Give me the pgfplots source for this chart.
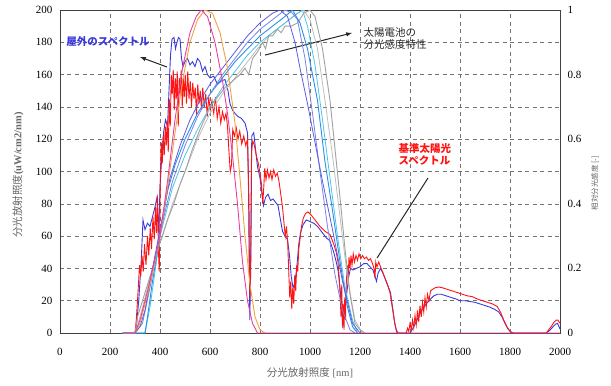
\documentclass[border=0pt]{standalone}
\usepackage{fontspec}
\setmainfont{Liberation Serif}
\newfontfamily\jp{Noto Sans CJK JP}
\usepackage{pgfplots}
\pgfplotsset{compat=1.18}
\definecolor{spblue}{RGB}{58,58,220}
\definecolor{spred}{RGB}{255,20,20}
\definecolor{rorange}{RGB}{242,160,64}
\definecolor{rpink}{RGB}{232,64,160}
\definecolor{rslate}{RGB}{92,92,226}
\definecolor{rslate2}{RGB}{120,130,232}
\definecolor{rbright}{RGB}{40,144,232}
\definecolor{rcyan}{RGB}{76,196,232}
\definecolor{rgray}{RGB}{160,160,160}
\definecolor{rgray2}{RGB}{190,190,190}
\begin{document}
\begin{tikzpicture}
\begin{axis}[
  scale only axis, width=500pt, height=323pt,
  xmin=0, xmax=2000, ymin=0, ymax=200,
  xtick={0,200,...,2000}, ytick={0,20,...,200},
  grid=major,
  grid style={draw=black!55, line width=0.6pt, dash pattern=on 4pt off 3.5pt},
  axis line style={draw=black!75, line width=0.8pt},
  major tick length=0pt,
  /pgf/number format/assume math mode=true,
  /pgf/number format/1000 sep={},
  tick label style={font=\fontsize{11}{12}\selectfont, text=black},
  xticklabel style={yshift=-12pt},
  yticklabel style={xshift=-4pt},
  clip mode=individual,
]
\addplot[spblue, line width=0.9pt] coordinates {
(250,0)(300,0)(305,3)(315,20)(325,45)(332,70)(340,64)(350,68)(360,66)(370,72)(380,78)(388,84)(395,62)(400,90)(408,112)(415,125)(422,132)(430,128)(436,150)(442,172)(448,182)(456,183)(462,176)(468,180)(474,183)(480,182)(486,170)(492,165)(500,168)(510,170)(520,166)(530,168)(540,165)(550,170)(560,168)(570,162)(580,165)(590,160)(600,158)(615,159)(630,154)(645,156)(660,157)(672,150)(680,142)(690,138)(700,136)(712,134)(725,133)(740,130)(750,124)(756,80)(759,8)(763,40)(767,122)(775,124)(782,114)(790,103)(800,96)(808,86)(814,79)(822,84)(832,86)(842,82)(852,83)(862,81)(872,79)(882,70)(890,63)(900,60)(910,58)(918,48)(925,35)(932,28)(940,31)(948,42)(955,55)(962,62)(972,67)(985,70)(1000,69)(1015,68)(1030,66)(1050,62)(1065,59)(1080,57)(1095,50)(1105,44)(1113,38)(1120,28)(1126,16)(1131,5)(1136,10)(1142,18)(1148,26)(1155,35)(1162,40)(1172,39)(1185,40)(1200,41)(1215,43)(1228,43)(1240,41)(1252,39)(1260,35)(1266,32)(1272,37)(1282,40)(1292,37)(1302,33)(1312,29)(1322,25)(1332,14)(1340,5)(1348,0)(1400,0)(1412,3)(1425,7)(1440,12)(1455,16)(1470,19)(1482,21)(1495,23)(1510,24)(1525,24)(1545,23)(1565,22)(1585,21)(1600,20)(1620,20)(1640,19.5)(1660,19)(1680,18)(1700,17)(1720,16)(1740,14.5)(1755,13)(1768,10)(1780,6)(1792,2.5)(1805,0.5)(1815,0)(1945,0)(1958,1.5)(1970,3.5)(1982,5.5)(1990,6)(1996,4)(2000,2.5)
};
\addplot[spred, line width=0.9pt] coordinates {
(250,0)(300,0)(305,8)(312,25)(318,42)(323,35)(328,48)(333,38)(338,55)(344,42)(350,60)(355,48)(361,65)(366,52)(372,72)(377,58)(382,78)(386,62)(390,85)(394,50)(397,38)(401,95)(405,118)(409,105)(413,122)(417,110)(421,128)(425,116)(429,132)(433,112)(437,145)(441,128)(445,160)(449,148)(453,163)(457,138)(461,158)(465,145)(469,162)(473,128)(477,158)(481,148)(485,163)(489,140)(493,158)(497,146)(501,160)(506,142)(511,162)(516,145)(521,156)(526,140)(531,155)(536,145)(541,152)(546,135)(551,154)(556,142)(561,150)(566,138)(571,152)(577,140)(583,148)(589,134)(595,146)(601,138)(608,144)(615,136)(622,146)(629,133)(636,140)(643,130)(650,137)(657,132)(664,136)(670,128)(676,112)(681,100)(686,104)(691,126)(698,122)(705,127)(712,120)(719,125)(727,117)(735,122)(743,116)(750,120)(754,90)(757,40)(760,22)(763,50)(766,112)(771,119)(778,116)(785,110)(792,106)(799,100)(806,92)(811,80)(815,90)(819,102)(824,95)(830,101)(836,96)(842,100)(848,95)(855,101)(862,97)(869,99)(876,94)(883,86)(890,78)(896,68)(901,60)(906,66)(911,55)(915,38)(919,22)(923,32)(927,15)(931,28)(935,18)(939,36)(943,26)(947,42)(951,38)(955,52)(960,58)(966,66)(973,71)(982,74)(992,75)(1005,73)(1020,70)(1040,66)(1060,63)(1080,61)(1095,55)(1105,50)(1112,44)(1117,34)(1121,22)(1124,10)(1127,30)(1130,4)(1133,18)(1136,2)(1139,22)(1142,8)(1145,30)(1149,42)(1152,32)(1156,47)(1160,40)(1164,48)(1168,42)(1173,49)(1178,44)(1184,48)(1190,45)(1196,49)(1203,46)(1210,48)(1218,46)(1226,47)(1234,45)(1242,46)(1250,43)(1256,40)(1260,34)(1263,44)(1268,41)(1275,44)(1282,41)(1290,38)(1300,34)(1310,30)(1320,25)(1330,15)(1338,7)(1345,2)(1352,0)(1385,0)(1390,3)(1395,1)(1400,6)(1405,2)(1410,8)(1415,3)(1420,11)(1425,5)(1430,14)(1435,7)(1440,17)(1445,10)(1450,19)(1455,13)(1460,22)(1465,16)(1470,24)(1476,20)(1482,26)(1490,27)(1500,28)(1515,28.5)(1530,28)(1550,27)(1570,26)(1590,25)(1610,24)(1630,23)(1650,22.5)(1670,21)(1690,20)(1710,19)(1730,18)(1748,16.5)(1762,13)(1775,8)(1787,4)(1800,1)(1812,0)(1945,0)(1955,2)(1965,4)(1975,6.5)(1985,8)(1992,8)(2000,6)
};
% annotations
\node[font=\jp\bfseries\fontsize{10.5}{12}\selectfont, text=spblue] at (axis cs:192,180.2) {屋外のスペクトル};
\draw[-latex, line width=1pt, black!85] (axis cs:428,164.7) -- (axis cs:320,170.9);
\node[anchor=west, align=left, font=\jp\fontsize{10.5}{12.5}\selectfont, text=black!85] at (axis cs:1200,182.4) {太陽電池の\\分光感度特性};
\draw[-latex, line width=1pt, black!85] (axis cs:820,172.1) -- (axis cs:1168,185.8);
\node[anchor=west, align=left, font=\jp\bfseries\fontsize{10.5}{12}\selectfont, text=spred] at (axis cs:1340,110.8) {基準太陽光\\スペクトル};
\draw[line width=1pt, black!85] (axis cs:1268,46.4) -- (axis cs:1472,96.0);
% labels
\node[rotate=90, font=\fontsize{10.5}{12}\selectfont, text=black!60] at (axis cs:-168,97.8) {{\jp 分光放射照度}\textbf{(uW/cm2/nm)}};
\node[font=\fontsize{10.5}{12}\selectfont, text=black!60] at (axis cs:1000,-24.8) {{\jp 分光放射照度} [nm]};
\coordinate (BBsw) at (axis cs:-240,-32.2);
\coordinate (BBne) at (axis cs:2204,206.2);
\end{axis}
\begin{axis}[
  scale only axis, width=500pt, height=323pt,
  xmin=0, xmax=2000, ymin=0, ymax=1,
  axis x line=none, axis y line*=right,
  ytick={0,0.2,0.4,0.6,0.8,1},
  yticklabels={0,0.2,0.4,0.6,0.8,1},
  axis line style={draw=black!75, line width=0.8pt},
  major tick length=0pt,
  tick label style={font=\fontsize{11}{12}\selectfont, text=black},
  yticklabel style={anchor=west, xshift=4pt},
  ylabel={}, clip mode=individual,
]
\addplot[rgray2, line width=0.8pt] coordinates {(250,0)(300,0)(320,0.05)(360,0.17)(400,0.28)(450,0.4)(500,0.5)(550,0.6)(600,0.68)(650,0.74)(700,0.79)(750,0.84)(800,0.89)(850,0.93)(900,0.96)(950,0.99)(975,1.0)(1000,0.97)(1030,0.88)(1060,0.72)(1090,0.55)(1120,0.36)(1150,0.17)(1180,0.04)(1210,0)};
\addplot[rgray, line width=0.9pt] coordinates {(250,0)(300,0)(310,0.05)(330,0.1)(350,0.15)(370,0.2)(390,0.26)(410,0.3)(430,0.35)(455,0.4)(480,0.46)(505,0.51)(530,0.57)(560,0.63)(600,0.7)(630,0.73)(660,0.76)(690,0.78)(720,0.8)(740,0.82)(755,0.8)(770,0.85)(790,0.87)(810,0.9)(822,0.88)(835,0.92)(850,0.92)(870,0.94)(885,0.93)(900,0.95)(925,0.95)(950,0.96)(975,0.99)(1000,1.0)(1020,0.98)(1050,0.88)(1080,0.72)(1100,0.57)(1120,0.42)(1140,0.26)(1160,0.12)(1180,0.03)(1200,0.01)(1220,0)};
\addplot[rcyan, line width=0.8pt] coordinates {(250,0)(340,0)(360,0.08)(400,0.3)(450,0.45)(500,0.55)(550,0.63)(600,0.7)(650,0.76)(700,0.81)(750,0.86)(800,0.9)(850,0.93)(900,0.96)(950,0.99)(970,1.0)(990,0.95)(1020,0.83)(1050,0.66)(1080,0.48)(1110,0.3)(1140,0.14)(1170,0.04)(1190,0)};
\addplot[rbright, line width=0.9pt] coordinates {(250,0)(340,0)(350,0.05)(370,0.16)(400,0.3)(430,0.44)(460,0.52)(500,0.6)(550,0.68)(600,0.74)(650,0.79)(700,0.84)(750,0.88)(800,0.92)(850,0.95)(900,0.98)(930,1.0)(960,0.96)(990,0.88)(1030,0.72)(1060,0.53)(1090,0.38)(1120,0.22)(1150,0.08)(1170,0.02)(1190,0)};
\addplot[rslate2, line width=0.8pt] coordinates {(250,0)(300,0)(330,0.03)(360,0.14)(400,0.31)(450,0.47)(500,0.58)(550,0.67)(600,0.74)(650,0.8)(700,0.85)(750,0.9)(800,0.94)(850,0.97)(900,1.0)(930,0.99)(950,0.97)(980,0.85)(1010,0.68)(1040,0.5)(1070,0.33)(1100,0.18)(1130,0.07)(1160,0.01)(1180,0)};
\addplot[rslate, line width=0.8pt] coordinates {(250,0)(300,0)(320,0.02)(340,0.07)(370,0.2)(400,0.32)(440,0.48)(480,0.58)(520,0.66)(560,0.72)(600,0.77)(650,0.82)(700,0.87)(750,0.92)(800,0.96)(850,0.99)(880,1.0)(910,0.98)(940,0.9)(960,0.82)(990,0.71)(1020,0.59)(1050,0.47)(1090,0.32)(1130,0.16)(1170,0.03)(1200,0)};
\addplot[rorange, line width=0.9pt] coordinates {(250,0)(300,0)(320,0.03)(350,0.12)(380,0.22)(400,0.3)(430,0.45)(460,0.62)(490,0.78)(520,0.9)(550,0.97)(580,1.0)(610,0.99)(640,0.93)(670,0.82)(700,0.65)(720,0.48)(740,0.3)(760,0.15)(780,0.05)(800,0.01)(820,0)};
\addplot[rpink, line width=0.9pt] coordinates {(250,0)(300,0)(320,0.04)(350,0.13)(380,0.23)(400,0.3)(430,0.47)(460,0.66)(490,0.82)(520,0.93)(545,0.98)(565,1.0)(590,0.98)(620,0.9)(650,0.78)(670,0.68)(690,0.55)(710,0.4)(730,0.22)(750,0.1)(770,0.03)(790,0)(2000,0)};
\node[rotate=90, font=\jp\fontsize{7.5}{9}\selectfont, text=black!60] at (axis cs:2140,0.464) {相対分光感度 [-]};
\end{axis}
\pgfresetboundingbox
\path (BBsw) rectangle (BBne);
\end{tikzpicture}
\end{document}
